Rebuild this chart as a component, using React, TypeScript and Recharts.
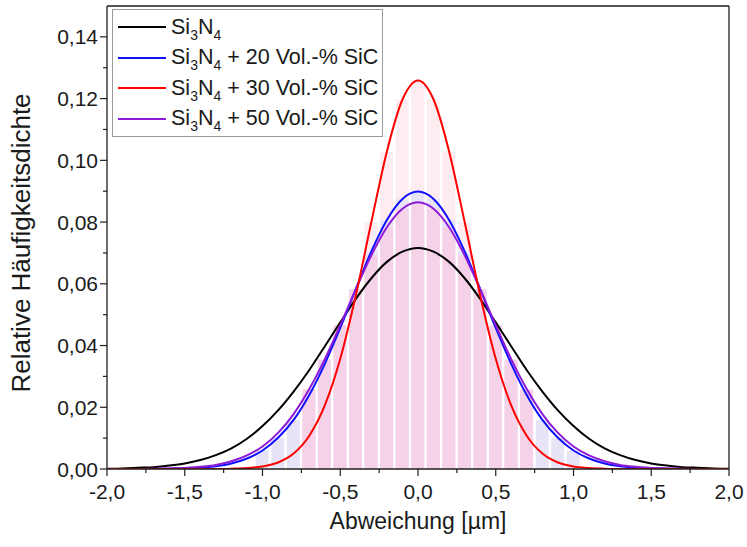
import React from 'react';
import { ComposedChart, Line, Bar, XAxis, YAxis, ReferenceLine, Customized } from 'recharts';

const xValues = [-2.0, -1.9, -1.8, -1.7, -1.6, -1.5, -1.4, -1.3, -1.2, -1.1, -1.0, -0.9, -0.8, -0.7, -0.6, -0.5, -0.4, -0.3, -0.2, -0.1, 0.0, 0.1, 0.2, 0.3, 0.4, 0.5, 0.6, 0.7, 0.8, 0.9, 1.0, 1.1, 1.2, 1.3, 1.4, 1.5, 1.6, 1.7, 1.8, 1.9, 2.0];

const si3n4 = [0.0001, 0.0002, 0.0004, 0.0006, 0.0011, 0.0018, 0.0029, 0.0045, 0.0067, 0.0098, 0.0139, 0.0190, 0.0251, 0.0320, 0.0397, 0.0475, 0.0551, 0.0618, 0.0671, 0.0704, 0.0716, 0.0704, 0.0671, 0.0618, 0.0551, 0.0475, 0.0397, 0.0320, 0.0251, 0.0190, 0.0139, 0.0098, 0.0067, 0.0045, 0.0029, 0.0018, 0.0011, 0.0006, 0.0004, 0.0002, 0.0001];
const sic20 = [0, 0, 0, 0, 0.0001, 0.0002, 0.0004, 0.0009, 0.0018, 0.0034, 0.0060, 0.0101, 0.0159, 0.0239, 0.0340, 0.0457, 0.0583, 0.0705, 0.0807, 0.0875, 0.0899, 0.0875, 0.0807, 0.0705, 0.0583, 0.0457, 0.0340, 0.0239, 0.0159, 0.0101, 0.0060, 0.0034, 0.0018, 0.0009, 0.0004, 0.0002, 0.0001, 0, 0, 0, 0];
const sic30 = [0, 0, 0, 0, 0, 0, 0, 0, 0.0001, 0.0003, 0.0008, 0.0021, 0.0050, 0.0107, 0.0205, 0.0357, 0.0562, 0.0800, 0.1029, 0.1197, 0.1259, 0.1197, 0.1029, 0.0800, 0.0562, 0.0357, 0.0205, 0.0107, 0.0050, 0.0021, 0.0008, 0.0003, 0.0001, 0, 0, 0, 0, 0, 0, 0, 0];
const sic50 = [0, 0, 0, 0.0001, 0.0002, 0.0003, 0.0007, 0.0013, 0.0025, 0.0044, 0.0073, 0.0117, 0.0178, 0.0258, 0.0355, 0.0466, 0.0582, 0.0692, 0.0783, 0.0843, 0.0864, 0.0843, 0.0783, 0.0692, 0.0582, 0.0466, 0.0355, 0.0258, 0.0178, 0.0117, 0.0073, 0.0044, 0.0025, 0.0013, 0.0007, 0.0003, 0.0002, 0.0001, 0, 0, 0];

const N = null;
const hist30 = [N, N, N, N, N, N, N, N, N, N, N, N, N, 0.0107, 0.0205, 0.0357, 0.0562, 0.0800, 0.1029, 0.1197, 0.1259, 0.1197, 0.1029, 0.0800, 0.0562, 0.0357, 0.0205, 0.0107, N, N, N, N, N, N, N, N, N, N, N, N, N];
const hist20 = [N, N, N, N, N, N, N, N, N, N, 0.0060, 0.0101, 0.0159, 0.0239, 0.0340, 0.0457, 0.0583, 0.0705, 0.0807, 0.0875, 0.0899, 0.0875, 0.0807, 0.0705, 0.0583, 0.0457, 0.0340, 0.0239, 0.0159, 0.0101, 0.0060, N, N, N, N, N, N, N, N, N, N];
const hist50 = [N, N, N, N, N, N, N, N, N, N, N, N, N, 0.0258, 0.0355, 0.0466, 0.0582, 0.0692, 0.0783, 0.0843, 0.0864, 0.0843, 0.0783, 0.0692, 0.0582, 0.0466, 0.0355, 0.0258, N, N, N, N, N, N, N, N, N, N, N, N, N];

const xTicks = [-2, -1.75, -1.5, -1.25, -1, -0.75, -0.5, -0.25, 0, 0.25, 0.5, 0.75, 1, 1.25, 1.5, 1.75, 2];
const yTicks = [0, 0.01, 0.02, 0.03, 0.04, 0.05, 0.06, 0.07, 0.08, 0.09, 0.1, 0.11, 0.12, 0.13, 0.14];

const legendLabels = ['+ 20 Vol.-% SiC', '+ 30 Vol.-% SiC', '+ 50 Vol.-% SiC'];
const xTitle = 'Abweichung [µm]';
const yTitle = 'Relative Häufigkeitsdichte';

const data = xValues.map((x, i) => ({
  x,
  si3n4: si3n4[i],
  sic20: sic20[i],
  sic30: sic30[i],
  sic50: sic50[i],
  hist30: hist30[i],
  hist20: hist20[i],
  hist50: hist50[i],
}));

const FONT = '"Liberation Sans", Arial, Helvetica, sans-serif';
const AX = '#1e1e1e';

const COLORS = {
  si3n4: '#000000',
  sic20: '#1010ff',
  sic30: '#ff0000',
  sic50: '#8c1ad6',
};

const XTick = (props: any) => {
  const { x, y, payload } = props;
  const v = payload.value as number;
  const major = Math.abs(v * 2 - Math.round(v * 2)) < 1e-6;
  const yy = Number(y);
  return (
    <g>
      <line x1={x} x2={x} y1={yy} y2={yy + (major ? 7 : 4)} stroke={AX} strokeWidth={1.2} />
      {major && (
        <text x={x} y={yy + 30} textAnchor="middle" fontSize={21} fill="#1a1a1a" fontFamily={FONT}>
          {v.toFixed(1).replace('.', ',')}
        </text>
      )}
    </g>
  );
};

const YTick = (props: any) => {
  const { x, y, payload } = props;
  const v = payload.value as number;
  const major = Math.round(v * 100) % 2 === 0;
  return (
    <g>
      <line x1={x - (major ? 7 : 4)} x2={x} y1={y} y2={y} stroke={AX} strokeWidth={1.2} />
      {major && (
        <text x={x - 9} y={y} dy={7.5} textAnchor="end" fontSize={21} fill="#1a1a1a" fontFamily={FONT}>
          {v.toFixed(2).replace('.', ',')}
        </text>
      )}
    </g>
  );
};

const Titles = () => (
  <g>
    <text x={418} y={529} textAnchor="middle" fontSize={23} fill="#1a1a1a" fontFamily={FONT}>
      {xTitle}
    </text>
    <text
      x={30}
      y={243}
      textAnchor="middle"
      fontSize={26}
      fill="#1a1a1a"
      fontFamily={FONT}
      transform="rotate(-90, 30, 243)"
    >
      {yTitle}
    </text>
  </g>
);

const Sub = ({ children }: { children: React.ReactNode }) => (
  <span style={{ fontSize: 14, position: 'relative', top: 6 }}>{children}</span>
);

const legendItems = [
  { color: COLORS.si3n4, suffix: '' },
  { color: COLORS.sic20, suffix: ' ' + legendLabels[0] },
  { color: COLORS.sic30, suffix: ' ' + legendLabels[1] },
  { color: COLORS.sic50, suffix: ' ' + legendLabels[2] },
];

const LegendBox = () => (
  <div
    style={{
      position: 'absolute',
      left: 112,
      top: 9,
      width: 271,
      height: 128,
      border: '1px solid #9a9a9a',
      background: '#ffffff',
      fontFamily: FONT,
      fontSize: 21.5,
      color: '#1a1a1a',
      boxSizing: 'border-box',
    }}
  >
    {legendItems.map((it, i) => (
      <div
        key={i}
        style={{
          position: 'absolute',
          left: 0,
          top: 2 + i * 30.5,
          height: 30,
          display: 'flex',
          alignItems: 'center',
          whiteSpace: 'nowrap',
        }}
      >
        <div style={{ width: 48, height: 2, background: it.color, marginLeft: 5, marginRight: 5 }} />
        <span>
          Si<Sub>3</Sub>N<Sub>4</Sub>
          {it.suffix}
        </span>
      </div>
    ))}
  </div>
);

export default function App() {
  return (
    <div style={{ position: 'absolute', left: 0, top: 0, width: 747, height: 547, background: '#ffffff' }}>
      <ComposedChart
        width={747}
        height={547}
        data={data}
        margin={{ top: 6, right: 18, left: 0, bottom: 0 }}
      >
        <XAxis
          xAxisId="main"
          dataKey="x"
          type="number"
          domain={[-2, 2]}
          ticks={xTicks}
          interval={0}
          allowDataOverflow
          tickSize={0}
          tickMargin={0}
          tickLine={false}
          tick={<XTick />}
          axisLine={{ stroke: AX, strokeWidth: 1.3 }}
          height={78}
        />
        <XAxis xAxisId="h30" dataKey="x" type="number" domain={[-2, 2]} allowDataOverflow hide orientation="top" height={0} />
        <XAxis xAxisId="h20" dataKey="x" type="number" domain={[-2, 2]} allowDataOverflow hide orientation="top" height={0} />
        <XAxis xAxisId="h50" dataKey="x" type="number" domain={[-2, 2]} allowDataOverflow hide orientation="top" height={0} />
        <YAxis
          type="number"
          domain={[0, 0.15]}
          ticks={yTicks}
          interval={0}
          allowDataOverflow
          tickSize={0}
          tickMargin={0}
          tickLine={false}
          tick={<YTick />}
          axisLine={{ stroke: AX, strokeWidth: 1.3 }}
          width={107}
        />
        <Bar xAxisId="h30" dataKey="hist30" fill="#fdecf0" barSize={13} isAnimationActive={false} />
        <Bar xAxisId="h20" dataKey="hist20" fill="#e8e4f8" barSize={13} isAnimationActive={false} />
        <Bar xAxisId="h50" dataKey="hist50" fill="#f6d2e9" barSize={13} isAnimationActive={false} />
        <ReferenceLine xAxisId="main" y={0.15} stroke={AX} strokeWidth={1.3} />
        <ReferenceLine xAxisId="main" x={2} stroke={AX} strokeWidth={1.3} />
        <Line xAxisId="main" type="monotone" dataKey="si3n4" stroke={COLORS.si3n4} strokeWidth={2} dot={false} isAnimationActive={false} />
        <Line xAxisId="main" type="monotone" dataKey="sic20" stroke={COLORS.sic20} strokeWidth={2} dot={false} isAnimationActive={false} />
        <Line xAxisId="main" type="monotone" dataKey="sic50" stroke={COLORS.sic50} strokeWidth={2} dot={false} isAnimationActive={false} />
        <Line xAxisId="main" type="monotone" dataKey="sic30" stroke={COLORS.sic30} strokeWidth={2} dot={false} isAnimationActive={false} />
        <Customized component={Titles} />
      </ComposedChart>
      <LegendBox />
    </div>
  );
}
